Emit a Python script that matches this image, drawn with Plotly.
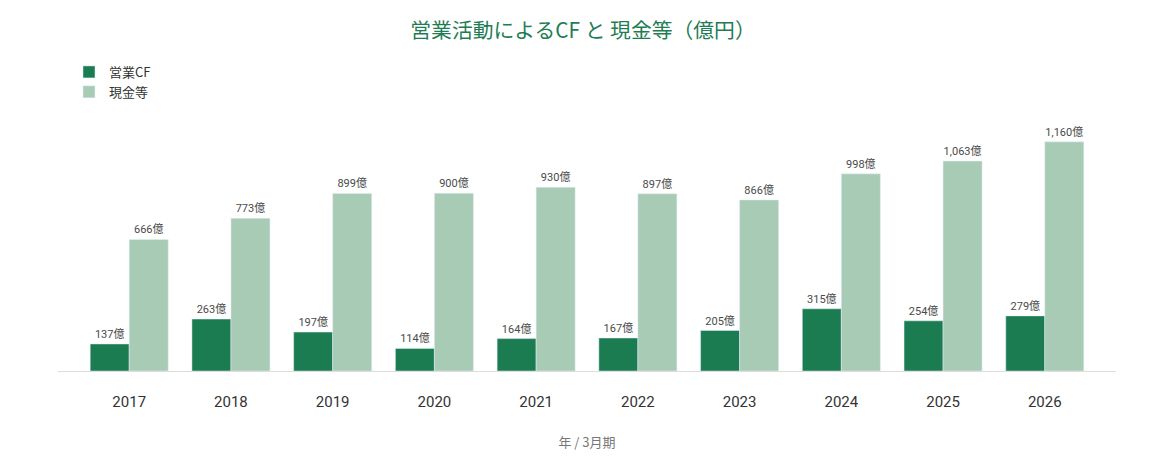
import plotly.graph_objects as go

# data (億円)
years = ["2017", "2018", "2019", "2020", "2021", "2022", "2023", "2024", "2025", "2026"]
op_cf = [137, 263, 197, 114, 164, 167, 205, 315, 254, 279]
cash = [666, 773, 899, 900, 930, 897, 866, 998, 1063, 1160]

DARK = "#1b7c52"
LIGHT = "#a8cbb6"
FONT = "'Roboto', 'Noto Sans CJK JP', sans-serif"
JP = "'Noto Sans CJK JP', sans-serif"


def labels(vals):
    return [f"{v:,}億" for v in vals]


fig = go.Figure()
fig.add_trace(go.Bar(
    name="営業CF", x=years, y=op_cf, marker_color=DARK,
    text=labels(op_cf), textposition="outside", cliponaxis=False,
    textfont=dict(size=11, color="#4a4a4a"),
))
fig.add_trace(go.Bar(
    name="現金等", x=years, y=cash, marker_color=LIGHT,
    text=labels(cash), textposition="outside", cliponaxis=False,
    textfont=dict(size=11, color="#4a4a4a"),
))

# page body has an 8px margin, so margins are shifted up/left by 8
fig.update_layout(
    width=1150, height=459,
    barmode="group", bargap=0.233, bargroupgap=0,
    paper_bgcolor="white", plot_bgcolor="white",
    font=dict(family=FONT, color="#333333"),
    margin=dict(l=50, r=42, t=122, b=96),
    title=dict(text="営業活動によるCF と 現金等（億円）", x=0.5, xanchor="center",
               y=0.95, yanchor="middle",
               font=dict(size=20.8, color="#1f7d55", family=JP)),
    legend=dict(orientation="v", x=0.0104, xanchor="left", y=1.303, yanchor="top",
                font=dict(size=13, color="#333333", family=JP),
                tracegroupgap=2, bgcolor="rgba(0,0,0,0)"),
    showlegend=True,
)
fig.update_xaxes(
    range=[-0.7, 9.7],
    showline=True, linecolor="#dddddd", linewidth=1, ticks="",
    tickfont=dict(size=15, color="#333333"), ticklabelstandoff=17,
    title=dict(text="年 / 3月期", font=dict(size=13, color="#777777", family=JP),
               standoff=27),
)
fig.update_yaxes(visible=False, range=[0, 1220], showgrid=False)

fig.write_html("out.html")
